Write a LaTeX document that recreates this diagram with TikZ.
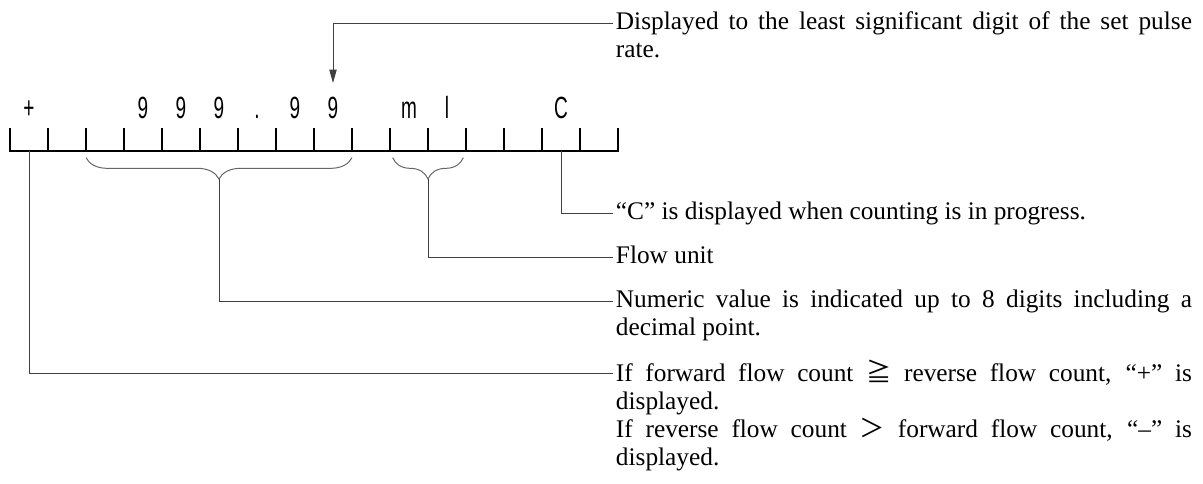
\documentclass[tikz,border=0pt]{standalone}
\usepackage{fontspec}
\setmainfont{Liberation Serif}
\newfontfamily\lcdfont[FakeStretch=0.62]{Liberation Sans}
\newfontfamily\cjkfont{Noto Sans CJK JP}
\usetikzlibrary{arrows.meta,decorations.pathreplacing,positioning}

\begin{document}
\begin{tikzpicture}[
    x=0.75pt, y=-0.75pt,
    font=\fontsize{19}{21}\selectfont,
    >={Triangle[length=10pt,width=5.5pt]},
    ruler/.style={line width=1.5pt, line cap=rect},
    lead/.style={draw=black!75, line width=0.75pt},
    curly/.style={draw=black!60, line width=0.75pt, decorate,
        decoration={brace, mirror, amplitude=16pt}},
    seg/.style={font=\lcdfont\fontsize{23}{23}\selectfont, inner sep=0pt, anchor=base},
    note/.style={anchor=north west, inner xsep=2pt, inner ysep=0pt,
        text width=432pt, align=justify, execute at begin node=\strut}
]
    \useasboundingbox (0,0) rectangle (1203,483);

    % display ruler, 16 cells
    \foreach \i in {0,...,16}
        \draw[ruler] ({10+38*\i},151) coordinate (t\i) -- ++(0,-22);
    \draw[ruler] (t0) -- (t16);
    \foreach \i in {0,...,15}
        \coordinate (m\i) at ({29+38*\i},151);

    % characters shown on the display
    \foreach \i/\ch in {0/+,3/9,4/9,5/9,6/.,7/9,8/9,10/m,11/l,14/C}
        \node[seg] (ch\i) at ({29+38*\i},118) {\ch};

    % explanations
    \node[note] (lbltop) at (613,9.4) {Displayed to the least significant digit of the set pulse\linebreak rate.};
    \node[note] (lblcount) at (613,199.4) {“C” is displayed when counting is in progress.};
    \node[note] (lblunit) at (613,243.4) {Flow unit};
    \node[note] (lblvalue) at (613,287.4) {Numeric value is indicated up to 8 digits including a\linebreak decimal point.};
    \node[note] (lblsign) at (613,359.4) {If forward flow count {\cjkfont ≧} reverse flow count, “+” is\linebreak displayed.\par
        \strut If reverse flow count {\cjkfont ＞} forward flow count, “–” is\linebreak displayed.};

    % braces under the value and the unit
    \draw[curly] ([yshift=-5pt]t2) -- node[coordinate, midway, yshift=-16pt] (tipvalue) {} ([yshift=-5pt]t9);
    \draw[curly] ([xshift=2pt, yshift=-5pt]t10) -- node[coordinate, midway, yshift=-16pt] (tipunit) {} ([xshift=-2pt, yshift=-5pt]t12);

    % leaders
    \draw[lead, ->, shorten >=10pt] ([yshift=-10.2pt]lbltop.north west) -| (ch8.north);
    \draw[lead] (m14) |- ([yshift=-10.2pt]lblcount.north west);
    \draw[lead] (tipunit) |- ([yshift=-10.2pt]lblunit.north west);
    \draw[lead] (tipvalue) |- ([yshift=-10.2pt]lblvalue.north west);
    \draw[lead] (m0) |- ([yshift=-10.2pt]lblsign.north west);
\end{tikzpicture}
\end{document}
